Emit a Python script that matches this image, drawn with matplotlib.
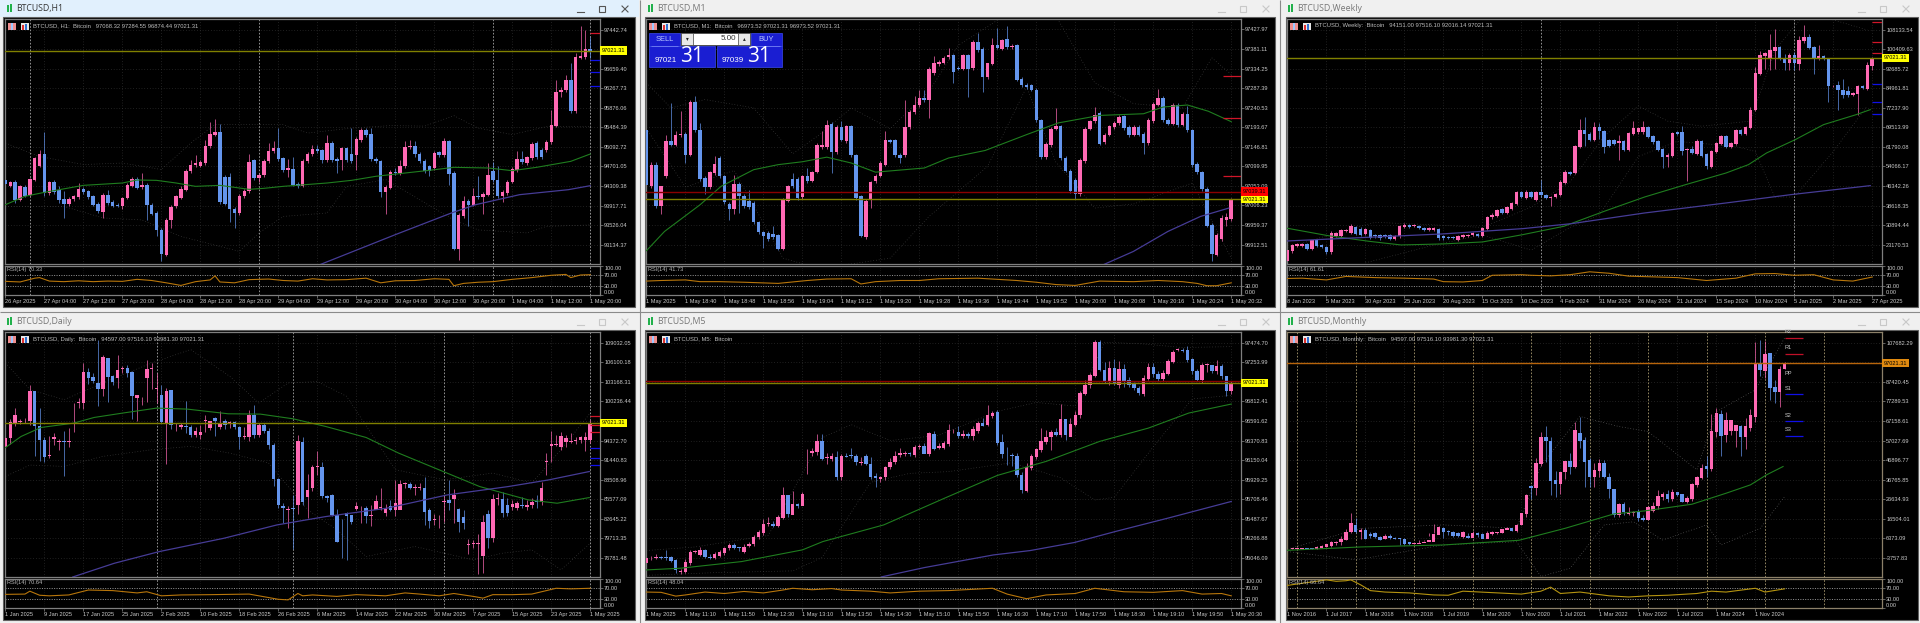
import numpy as np
import matplotlib
matplotlib.use('Agg')
import matplotlib.pyplot as plt
from matplotlib.patches import Rectangle

plt.rcParams['font.family'] = ['Liberation Sans', 'DejaVu Sans']

W, H = 1920, 623
UP = '#ff69b4'
DOWN = '#6495ed'
LAST = 97021.31

# ---------- H1 ----------
h1_open = [94437,94317,94383,94036,94290,94136,94437,94717,94951,94170,94397,94236,94050,93949,94050,94090,94256,94203,94103,93949,93795,94130,93989,93922,93902,94069,94317,94450,94283,94330,93936,93769,93435,92934,93635,93902,94069,94236,94604,94724,94717,94771,95105,95339,95385,94490,94490,93849,93769,94103,94203,94824,94470,94524,94811,95005,95071,94871,94637,94657,94350,94317,94804,94958,95058,95025,94824,95165,94851,94824,95065,94951,94938,95238,95425,95345,94858,94804,94183,94270,94590,94570,94704,95085,95118,94958,94811,94704,94671,94985,94938,95205,94570,93047,93702,94003,93936,94103,94083,94136,94604,94423,94103,94170,94397,94637,94858,94771,94871,95172,95038,95025,95198,95519,96187,96227,96441,95806,96882,96895,97057]
h1_close = [94350,94383,94036,94303,94116,94450,94864,94951,94170,94383,94183,94036,93949,94056,94103,94256,94190,94090,93936,93802,94130,93969,93902,93902,94069,94323,94450,94270,94330,93936,93755,93421,92954,93635,93889,94103,94256,94617,94724,94771,94784,95105,95359,95385,93989,93956,93849,93769,94103,94216,94791,94470,94537,94811,95018,95071,94858,94637,94670,94337,94303,94818,94958,95058,95005,94824,95165,94831,94818,95065,94838,94818,95252,95425,95332,94858,94804,94183,94290,94590,94570,94704,95091,95118,94944,94811,94604,94604,94971,94925,95205,94557,93047,93722,94003,93936,94103,94090,94150,94524,94423,94103,94183,94397,94657,94858,94784,94884,95152,94884,94891,95198,95532,96194,96240,96441,95806,96895,96908,97062,97021]
h1_high = [94470,94410,94437,94330,94320,94480,94900,95040,95385,94410,94430,94303,94203,94080,94130,94370,94290,94230,94130,93980,94170,94236,94020,93960,94090,94370,94490,94490,94570,94370,93970,93800,93470,93670,93920,94130,94300,94650,94840,94938,94830,95238,95586,95652,95559,94530,94570,93880,94140,94250,94958,94860,94570,94850,95172,95205,95472,94900,94850,94900,94380,94850,95000,95138,95130,95060,95338,95205,94890,95100,95100,95472,95290,95470,95472,95472,94890,94840,94330,94630,94670,94838,95205,95238,95205,95000,94850,94740,95010,95020,95272,95238,94610,93760,94103,94040,94270,94504,94190,94771,94784,94704,94220,94430,94700,95005,95005,94920,95190,95210,95080,95240,95840,96441,96300,96541,96775,96975,97510,97443,97289]
h1_low = [94303,94290,93969,94000,94090,94110,94410,94690,94103,94130,94150,93969,93669,93902,94010,94040,94150,94050,93900,93770,93669,93930,93880,93880,93850,94040,94290,94240,94250,93635,93720,93301,92800,92900,93470,93870,94040,94200,94570,94700,94690,94740,95080,95310,93950,93920,93582,93468,93730,94070,94170,94430,94400,94490,94780,94970,94820,94600,94500,94300,94270,94290,94770,94920,94980,94780,94790,94800,94570,94640,94800,94780,94637,95200,95300,94820,94770,94080,93755,94240,94540,94540,94670,95050,94900,94780,94570,94504,94640,94890,94900,94337,93030,92834,93670,93500,93900,94050,93750,94100,94390,94060,93982,94130,94360,94600,94750,94730,94840,94850,94860,94990,95160,95490,96100,96190,95770,95770,96850,96860,96874]
h1_ma_x = [0,4,8,16,24,27,31,35,39,44,50,53,57,66,71,76,82,87,92,99,104,109,116,120]
h1_ma = [93936,94103,94183,94323,94370,94430,94423,94370,94303,94323,94243,94263,94303,94370,94423,94504,94570,94624,94684,94671,94617,94684,94804,94951]
h1_slow_x = [64.5,80,91.5,96.5,105.5,115.5,120]
h1_slow = [92733,93335,93769,93936,94136,94236,94316]
h1_bb_x = [0,7,16,24,32,38,43,51,57,62,71,79,86,92,97,104,111,120]
h1_bb_up = [95170,94900,94740,94770,94640,95170,95540,95540,95540,95370,95470,95520,95510,95720,95470,95340,95500,95500]
h1_bb_low_x = [0,12,20,28,36,48,52,57,66,70,78,92,97,107,111,120]
h1_bb_low = [93900,93900,93670,93630,93300,93000,93370,93700,93770,94300,94440,93630,93430,93370,93500,93530]
h1_rsi_x = [0,3,6,7,9,12,15,18,21,24,27,30,33,36,39,42,43,44,47,50,54,57,60,63,66,70,74,77,80,84,88,91,92,94,97,100,104,108,112,115,116,118,120]
h1_rsi = [47,45,58,60,48,46,49,46,48,47,54,50,42,33,46,52,66,45,42,53,55,50,48,56,52,53,58,42,49,50,56,54,32,40,44,46,54,60,68,71,60,69,70]
h1_ytick = [97442.74,97051.07,96659.40,96267.73,95876.06,95484.39,95092.72,94701.05,94309.38,93917.71,93526.04,93134.37]
h1_ylim = [92747,97656]
h1_dates = ['26 Apr 2025','27 Apr 04:00','27 Apr 12:00','27 Apr 20:00','28 Apr 04:00','28 Apr 12:00','28 Apr 20:00','29 Apr 04:00','29 Apr 12:00','29 Apr 20:00','30 Apr 04:00','30 Apr 12:00','30 Apr 20:00','1 May 04:00','1 May 12:00','1 May 20:00']
h1_sep = [5,52,100,120]
h1_red = [97369]
h1_blue = [96835,96601,96307]

# ---------- M1 ----------
m1_open = [97188,97052,97104,97006,97076,97160,97152,97174,97178,97128,97254,97186,97072,97050,97084,97120,97076,97010,96998,97058,97030,97016,97012,96966,96942,96940,96937,96935,96903,97018,97070,97070,97026,97076,97066,97087,97146,97146,97202,97134,97194,97160,97196,97126,97028,96930,97020,97064,97078,97104,97162,97162,97128,97126,97194,97230,97246,97264,97258,97324,97344,97348,97362,97366,97336,97334,97366,97335,97398,97382,97314,97346,97390,97382,97406,97385,97390,97310,97296,97294,97284,97210,97122,97151,97190,97196,97120,97090,97068,97034,97112,97190,97208,97228,97158,97176,97194,97204,97220,97194,97176,97194,97178,97156,97209,97248,97264,97212,97202,97248,97200,97226,97186,97106,97086,97046,96960,96888,96926,96972,96974]
m1_close = [97056,97104,97006,97052,97160,97152,97174,97178,97128,97254,97186,97070,97050,97086,97106,97076,97014,96998,97058,97028,97006,97002,96966,96942,96932,96927,96930,96903,97020,97052,97052,97024,97076,97064,97086,97152,97152,97198,97134,97194,97164,97196,97126,97023,96934,97018,97062,97078,97108,97162,97159,97126,97120,97194,97230,97247,97264,97258,97334,97348,97350,97360,97366,97326,97334,97366,97334,97398,97378,97314,97348,97390,97384,97402,97386,97388,97308,97294,97290,97284,97210,97122,97154,97190,97196,97120,97090,97040,97034,97116,97190,97208,97224,97154,97176,97196,97204,97218,97192,97174,97194,97176,97156,97212,97250,97264,97210,97202,97248,97198,97226,97186,97102,97086,97046,96958,96890,96936,96976,96978,97021]
m1_high = [97192,97110,97110,97015,97176,97252,97184,97232,97182,97258,97268,97204,97076,97090,97124,97124,97080,97014,97080,97062,97034,97044,97016,96970,96946,96946,96956,96939,97024,97056,97084,97074,97080,97096,97090,97156,97184,97212,97206,97198,97208,97200,97200,97130,97032,97022,97066,97082,97112,97184,97166,97166,97132,97260,97234,97268,97284,97284,97338,97364,97354,97364,97384,97370,97340,97370,97370,97402,97420,97386,97318,97408,97432,97406,97436,97392,97394,97314,97300,97298,97288,97214,97158,97194,97240,97200,97124,97094,97072,97120,97194,97212,97242,97232,97180,97200,97208,97222,97224,97198,97198,97198,97182,97216,97254,97286,97268,97216,97252,97252,97230,97244,97190,97110,97090,97050,96964,96940,96984,96988,97024]
m1_low = [97052,97048,97000,96986,97072,97148,97148,97170,97108,97124,97182,97066,97034,97046,97080,97072,97010,96972,96986,96988,97000,96998,96962,96938,96904,96922,96926,96900,96899,97014,97048,97020,97022,97060,97062,97083,97142,97142,97084,97130,97160,97156,97122,97019,96930,96926,97000,97060,97074,97100,97155,97122,97108,97122,97190,97226,97242,97254,97215,97320,97340,97344,97358,97300,97330,97330,97266,97331,97374,97278,97310,97342,97380,97378,97382,97381,97304,97290,97286,97280,97206,97118,97118,97147,97186,97116,97086,97036,97022,97030,97108,97186,97204,97150,97154,97172,97190,97200,97188,97170,97172,97172,97130,97152,97205,97244,97206,97198,97198,97194,97196,97182,97098,97082,97042,96954,96872,96884,96922,96958,96970]
m1_ma_x = [0,3.7,11,15.3,22,27,32,37,42,47,57,62,69.5,78,84.5,93,102,106,111,115.3,120]
m1_ma = [96898,96944,97008,97052,97092,97104,97111,97122,97108,97086,97096,97120,97138,97176,97204,97222,97226,97242,97247,97232,97207]
m1_slow_x = [93.7,99.9,107,113.7,119.5]
m1_slow = [96864,96896,96944,96980,97000]
m1_bb_x = [0,5,12,22,30,36,42,50,58,64,72,78,84,92,100,110,116,120]
m1_bb_up = [97300,97240,97260,97240,97130,97180,97240,97190,97280,97390,97450,97470,97460,97300,97250,97240,97360,97320]
m1_bb_low_x = [0,8,18,28,34,42,50,58,70,78,84,92,100,112,116,120]
m1_bb_low = [97190,97050,97090,96880,96860,96866,96880,96980,97100,97290,97110,97000,97010,97060,96970,96880]
m1_rsi_x = [0,3,8,11,15,20,27,33,37,42,44,47,52,56,60,64,68,72,76,80,84,88,93,96,100,105,110,113,115,117,120]
m1_rsi = [48,50,52,46,46,44,40,50,55,56,38,46,50,50,56,57,58,54,50,44,36,33,48,47,46,50,46,40,32,32,42]
m1_ytick = [97427.97,97381.11,97334.25,97287.39,97240.53,97193.67,97146.81,97099.95,97053.09,97006.23,96959.37,96912.51]
m1_ylim = [96866,97453]
m1_dates = ['1 May 2025','1 May 18:40','1 May 18:48','1 May 18:56','1 May 19:04','1 May 19:12','1 May 19:20','1 May 19:28','1 May 19:36','1 May 19:44','1 May 19:52','1 May 20:00','1 May 20:08','1 May 20:16','1 May 20:24','1 May 20:32']
m1_sep = []
m1_red = [97317,97216,97076]
m1_blue = []

# ---------- Weekly ----------
w1_open = [16600,20550,22790,22790,23450,21470,24900,23180,22270,20150,26740,26740,28450,27800,30170,29510,27400,28850,27140,27140,27140,27010,25430,26480,30300,30960,30430,30430,29770,29120,28850,29510,26480,26210,26080,25170,26210,26740,27010,27530,26610,29510,33990,34380,37280,35700,37280,39390,43990,41620,43860,40970,43860,42940,41490,42020,42810,47550,51900,51370,61650,68360,67040,64670,69810,68230,64670,64670,63350,64150,60460,66910,67580,67580,69550,66250,64150,60990,57830,58350,67570,67700,60460,61120,59130,64010,59130,53870,59930,63090,65990,61780,63090,68360,67040,69410,76260,90760,97860,96670,99700,101160,96800,94960,98260,94700,103530,105250,101160,96540,97600,96540,85760,86150,84440,84050,82330,82850,85760,84830,93930]
w1_close = [20950,23180,23450,23580,21470,24900,22790,22270,20150,27800,27800,28850,28850,30690,27400,27140,29510,25950,26480,25690,26210,25560,26740,30430,30820,30170,30820,29640,29120,29640,29640,25690,25690,25690,25690,26740,27010,27140,27800,26740,29770,34120,35040,36760,35700,37940,39520,43990,42020,44130,42020,43860,42680,41620,42020,43070,48080,51900,51240,62040,68620,67040,64670,69550,68100,61780,62040,63090,64150,60460,67190,69150,69280,69550,65730,63620,60720,57830,58750,67300,67040,60060,61120,59400,64280,58350,54150,60060,63360,65990,61780,63360,68360,67040,69550,76520,91010,98260,98910,99970,101160,96540,94960,98260,94960,103930,105250,100900,96540,97600,96540,85760,86020,84180,82470,82200,83120,85760,85100,94040,97020]
w1_high = [21200,23500,23800,23900,23800,25200,25200,23500,22600,28500,28200,29200,29200,31300,30600,30000,29900,29200,27500,27500,27500,27400,27100,31000,31800,31300,31200,30800,30100,30000,30000,29900,26800,26600,26400,27100,27400,27500,28200,27900,30100,34500,35500,37200,37700,38400,40100,44500,44400,44600,44300,44300,48700,43300,42400,43500,48600,52500,52300,62500,73000,73600,67500,71500,71300,68600,65100,65000,66600,64500,67600,72000,69700,72000,70000,66700,64600,61400,59200,67800,68000,70000,61500,62000,64800,64400,59500,60500,63800,66400,66400,63800,68900,68700,70000,77500,93500,99800,99500,106500,108400,101600,98500,98800,99500,105700,110000,106500,101800,102200,98000,97000,86400,88000,88500,86000,83600,86300,86200,95500,97516]
w1_low = [16000,20000,22400,22400,21000,21000,22400,21800,19300,19600,26300,26300,28000,27300,27000,26700,27000,25500,25900,25200,25800,25100,25000,26000,29800,29700,30000,29200,28700,28700,28400,25200,25200,25300,25300,24800,25800,26300,26600,26300,26200,29100,33500,34000,35300,35300,36800,38900,41600,41200,41600,40500,42200,41200,38500,41600,42400,47000,50800,50900,61200,62000,64200,64200,64800,59500,61600,62700,56800,60000,60000,66400,67100,67100,65300,63100,60300,53600,54000,57900,66600,58500,48500,58900,58600,57900,53000,53400,59400,62600,61300,61300,62600,66600,66600,69000,75800,90300,92500,92000,92500,96100,92000,92000,92000,92000,103000,100400,90600,96000,96100,79500,85300,76500,81000,81700,81800,74500,84600,84300,92000]
w1_ma_x = [0,8.3,16.7,23.3,31.7,40,48.3,56.7,65,73.3,81.7,90,94.6,98.3,104.2,110,116.7,119.6]
w1_ma = [29640,26740,24510,23060,23450,24240,27140,30430,36360,42020,46890,51500,54800,59400,64670,70600,74550,76530]
w1_slow_x = [0,15,31.7,48.3,58.3,73.3,90,103.3,119.6]
w1_slow = [24640,25950,27400,29510,31480,35700,39650,42940,46500]
w1_bb_x = [0,12,18,30,40,50,58,65,72,78,85,95,100,106,112,119]
w1_bb_up = [22000,29000,32000,31000,30000,38000,48000,66000,78000,72000,70000,72000,100000,114000,112000,108000]
w1_bb_low_x = [16,30,40,50,58,64,72,80,92,96,100,104,112,119]
w1_bb_low = [16000,23000,27000,21000,30000,35000,58000,64000,62000,60000,42000,42000,60000,78000]
w1_rsi_x = [0,3,8,12,18,24,30,32,36,40,42,48,50,54,58,62,66,70,76,80,86,92,96,100,104,108,112,116,120]
w1_rsi = [57,58,52,64,60,58,55,46,45,50,68,70,68,66,70,80,75,65,62,60,50,58,73,74,68,70,52,48,62]
w1_ytick = [108133.54,100409.63,92685.72,84961.81,77237.90,69513.99,61790.08,54066.17,46342.26,38618.35,30894.44,23170.53]
w1_ylim = [15532,112348]
w1_dates = ['8 Jan 2023','5 Mar 2023','30 Apr 2023','25 Jun 2023','20 Aug 2023','15 Oct 2023','10 Dec 2023','4 Feb 2024','31 Mar 2024','26 May 2024','21 Jul 2024','15 Sep 2024','10 Nov 2024','5 Jan 2025','2 Mar 2025','27 Apr 2025']
w1_sep = [52,104]
w1_red = [111030,103392,98783]
w1_blue = [86666,79423,74812]

# ---------- Daily ----------
d1_open = [93332,94782,96982,97082,97232,97232,101732,96482,94482,92132,94582,94132,94232,94132,96332,99982,100032,104632,103932,102932,102132,106732,104032,103782,105132,105232,104632,100732,100232,103732,105082,102132,101132,96932,101982,96332,96332,96582,96332,95132,95132,97332,96232,97732,96432,97232,97032,97082,96382,94932,94832,98132,95132,96732,95732,93732,88632,84582,84032,84332,84732,94132,85982,87332,90432,90432,86132,86232,83232,79232,83532,83232,84132,84232,84232,83132,83982,84232,83482,84582,84032,84032,87882,87882,87232,87332,87332,83982,82482,82432,85232,85482,85632,84132,82982,78732,78882,78832,77032,83332,79732,85632,85632,84732,84432,84232,84732,84432,84732,85332,85132,91182,93482,93732,93382,94132,94132,94332,94382,94482,94497]
d1_close = [94782,97082,98182,97232,97232,101732,96482,94482,91982,92132,94932,94132,94132,94132,96332,100082,104632,103732,103332,102132,106932,103882,103132,104982,105182,104532,101032,101232,100232,105132,105082,102132,97132,101832,96732,96332,96732,96432,95132,95832,95582,97332,97232,97332,96832,96632,97032,96332,94932,94932,98132,95232,96732,95732,93732,88582,84732,84232,84132,84132,94232,85182,86982,90382,90432,86132,85732,83232,79232,79132,83132,82232,84532,84232,83132,83132,85382,84482,84232,84032,84982,87882,87882,87332,87232,87332,83632,82332,82532,82432,85232,84982,86232,82232,81982,78732,78982,79082,82232,79732,85632,85632,83482,83482,84932,84982,84632,84732,85232,85132,87332,91232,93782,93732,94982,94732,94332,94482,94882,94882,97021]
d1_high = [95232,97632,99182,97632,97732,102632,101732,99182,94882,94982,95432,94632,95732,96232,99982,100732,105982,105232,104432,109432,107132,104732,104132,107232,105532,105732,104832,101032,100932,106432,106032,104432,102632,102232,101982,97032,97032,100332,96632,96332,96732,98132,97332,97932,98832,97532,97332,97232,96532,96432,98932,99632,97032,96932,96232,93932,88832,84982,84532,86232,95232,94932,89432,90732,92732,91232,86232,86432,84132,82632,83632,83232,85232,84632,84632,84732,86232,87232,84932,85532,88532,88532,88232,88232,87932,88032,88932,84332,83332,83232,86132,88432,87132,84332,83932,79632,79432,80332,83232,83932,86332,86532,86732,85732,85432,85332,85932,85532,85832,86232,88232,92432,95832,95132,95632,95232,95532,94932,95032,95632,97516]
d1_low = [93032,93832,96482,96832,96932,96632,92032,91332,91132,91732,93632,92932,89032,93332,95632,99232,99032,102832,103032,99532,101032,100132,102632,102232,104532,103832,97632,97232,99732,100132,102032,100032,96932,90932,96132,95732,96032,95532,94832,94832,94632,95632,95932,95032,96132,96132,96232,96032,93132,94532,94232,94732,94832,95532,93132,87582,84232,81982,81232,78132,83432,84732,82732,86832,89182,85832,85232,83032,79232,76832,76432,81882,84032,82032,82032,81632,84932,84032,83082,83832,83032,87032,87232,87132,86232,86932,81732,81232,81732,81232,82232,84032,82032,80732,81132,77432,78332,74432,74532,78332,79232,84732,82932,83132,84032,83932,84332,84032,84232,84332,84732,89232,91132,93532,92932,93332,93932,93832,94032,92832,93981]
d1_ma_x = [0,3.2,7.3,14,18.2,24,31,37.3,45.7,52.3,59,65.7,74,80.7,89,97.3,107.3,113.2,119.8]
d1_ma = [93332,94982,96332,96982,97832,98482,99232,99082,98382,98332,97632,96482,94832,92482,89982,87482,85482,84982,85832]
d1_slow_x = [13.8,22.3,31.5,44.8,55.7,65.7,78.2,90.7,103.2,111.5,119.8]
d1_slow = [73932,75982,77732,79732,81732,82982,84232,86232,87482,88482,89732]
d1_bb_x = [0,5,12,20,30,38,46,52,58,64,70,80,90,100,108,114,120]
d1_bb_up = [106000,102000,100500,103000,106000,108000,104000,100000,103000,103200,101000,90000,88500,89500,88000,93000,98500]
d1_bb_low_x = [0,5,12,20,30,38,46,54,62,68,74,84,96,102,108,114,120]
d1_bb_low = [89000,90700,90500,92000,93000,93500,92500,91000,84000,81000,77000,78500,76500,77500,78000,75000,79000]
d1_rsi_x = [0,4,5,7,9,13,17,22,27,29,32,36,42,50,56,58,60,61,63,68,72,78,82,85,89,92,96,98,100,104,108,111,113,116,120]
d1_rsi = [47,48,58,44,42,45,62,60,52,56,42,45,46,48,30,28,50,42,45,40,46,42,52,48,42,50,40,34,46,46,48,60,68,66,68]
d1_ytick = [109032.05,106100.18,103168.31,100236.44,97304.57,94372.70,91440.83,88508.96,85577.09,82645.22,79713.35,76781.48]
d1_ylim = [73932,110632]
d1_dates = ['1 Jan 2025','9 Jan 2025','17 Jan 2025','25 Jan 2025','2 Feb 2025','10 Feb 2025','18 Feb 2025','26 Feb 2025','6 Mar 2025','14 Mar 2025','22 Mar 2025','30 Mar 2025','7 Apr 2025','15 Apr 2025','23 Apr 2025','1 May 2025']
d1_sep = [31,59,90,120]
d1_red = [98032,96632,95632]
d1_blue = [93232,91832,90732]

# ---------- M5 ----------
m5_open = [94986,95040,95046,95062,95062,95054,95018,94892,94892,94986,95115,95080,95134,95062,95050,95071,95101,95154,95193,95158,95118,95182,95202,95277,95325,95434,95434,95411,95502,95751,95530,95653,95634,96237,96231,96246,96360,96171,96162,96188,95958,96198,96202,96195,96115,96195,96108,95966,95938,95954,96068,96130,96209,96218,96228,96210,96293,96304,96221,96440,96284,96289,96330,96485,96469,96417,96440,96417,96480,96568,96550,96642,96687,96349,96209,96211,96199,95984,95805,96065,96184,96269,96355,96405,96466,96429,96611,96406,96548,96656,96895,96993,97104,97482,97170,97038,97189,97000,97180,97055,97008,96963,96895,97068,97200,97125,97068,97125,97256,97395,97395,97388,97295,97151,97057,97228,97226,97151,97206,97102,96925]
m5_close = [95040,95046,95062,95050,95043,95010,94911,94892,95003,95115,95118,95134,95062,95050,95091,95110,95157,95193,95158,95157,95175,95202,95287,95334,95424,95434,95411,95506,95751,95540,95653,95634,95764,96240,96250,96360,96164,96184,96195,95958,96198,96189,96191,96123,96115,96104,95958,95946,95957,96070,96134,96198,96225,96233,96219,96293,96314,96221,96451,96276,96314,96342,96485,96492,96417,96440,96417,96504,96568,96540,96656,96681,96342,96216,96202,96194,95984,95807,96067,96191,96273,96361,96416,96466,96436,96611,96436,96559,96656,96905,96999,97107,97478,97170,97033,97189,97008,97180,97030,96995,96963,96902,97076,97200,97120,97068,97132,97263,97370,97395,97384,97283,97151,97056,97228,97228,97151,97215,97094,96925,97016]
m5_high = [95060,95070,95085,95072,95130,95070,95030,94920,95030,95135,95140,95165,95145,95090,95110,95135,95175,95210,95215,95175,95200,95225,95310,95360,95480,95510,95460,95525,95850,95700,95800,95670,95790,96280,96290,96440,96440,96230,96230,96250,96220,96235,96290,96220,96190,96220,96190,96005,95965,96085,96170,96250,96290,96250,96240,96315,96330,96340,96470,96480,96340,96370,96560,96500,96530,96490,96465,96530,96590,96625,96770,96700,96710,96440,96300,96230,96235,96020,96115,96215,96290,96510,96490,96495,96510,96780,96560,96620,96700,96925,97050,97130,97510,97500,97260,97270,97290,97270,97230,97090,97030,96990,97110,97250,97240,97160,97170,97290,97390,97410,97410,97440,97300,97180,97250,97250,97220,97280,97230,97000,97040]
m5_low = [94970,95020,95030,95030,95020,95000,94880,94860,94880,94970,95100,95065,95040,95030,95030,95055,95080,95135,95150,95120,95100,95165,95180,95260,95310,95405,95395,95390,95490,95510,95630,95615,95745,95990,96200,96210,96150,96110,96140,95925,95930,96180,96175,96100,96095,96090,95935,95850,95900,95930,96050,96105,96190,96200,96200,96190,96275,96280,96200,96260,96270,96270,96310,96460,96400,96395,96400,96380,96460,96530,96530,96620,96320,96170,96090,96080,95960,95780,95790,96040,96160,96240,96335,96260,96420,96405,96380,96520,96540,96620,96880,96960,97090,97160,97020,97000,97000,96960,96980,96980,96940,96880,96870,97050,97090,97040,97040,97110,97240,97380,97370,97260,97120,97040,97020,97140,97130,97120,97060,96870,96900]
m5_ma_x = [0,7,19.5,32,36.2,48.7,61.2,72,82,93,103,111.3,120]
m5_ma = [94911,94930,95005,95137,95231,95419,95721,95977,96135,96361,96511,96681,96782]
m5_slow_x = [48.2,57,71.2,78.7,87.8,96.2,107,120]
m5_slow = [94832,94937,95080,95129,95220,95344,95495,95683]
m5_bb_x = [0,10,25,36,42,50,60,72,80,88,94,102,110,120]
m5_bb_up = [95130,95170,95300,96400,96550,96370,96430,96700,96800,96760,97480,97460,97420,97430]
m5_bb_low_x = [0,14,30,36,46,54,62,75,85,92,96,104,112,120]
m5_bb_low = [94850,94880,94900,95050,95900,96000,96020,96120,95950,95700,95730,96300,96840,96880]
m5_rsi_x = [0,3,6,8,12,16,20,24,28,30,34,38,40,46,50,56,62,71,74,78,82,88,92,98,104,110,114,118,120]
m5_rsi = [55,54,41,45,55,50,57,52,62,68,63,67,62,58,52,58,60,68,48,32,45,50,68,56,54,60,48,50,42]
m5_ytick = [97474.70,97253.99,97033.20,96812.41,96591.62,96370.83,96150.04,95929.25,95708.46,95487.67,95266.88,95046.09]
m5_ylim = [94831,97595]
m5_dates = ['1 May 2025','1 May 11:10','1 May 11:50','1 May 12:30','1 May 13:10','1 May 13:50','1 May 14:30','1 May 15:10','1 May 15:50','1 May 16:30','1 May 17:10','1 May 17:50','1 May 18:30','1 May 19:10','1 May 19:50','1 May 20:30']
m5_sep = []
m5_red = []
m5_blue = []

# ---------- Monthly ----------
mn_open = [740,960,1000,1080,1190,1100,950,1640,2000,2680,3890,4400,5790,9590,13390,9590,10620,8550,9420,7340,6130,7690,6830,6480,6130,4400,3540,3540,3890,4400,4750,8210,11660,10280,9930,9420,7170,7860,6830,9070,8720,6130,8720,9070,9240,10800,11660,10450,13390,18910,33770,32390,44820,58980,56910,36530,34460,41020,46720,43270,60880,57080,47070,38260,41200,45680,38430,31870,18570,24100,19090,19610,19950,17190,16150,20810,23060,27720,29450,27030,30660,29450,25480,26860,34110,37570,44130,42400,61230,70900,59670,61740,61740,64510,58810,63470,69340,97150,93180,102330,84540,82120,94210]
mn_close = [960,1000,1190,1190,1100,950,2160,2510,3370,4750,4750,6130,9930,14420,9590,10620,6130,7510,7170,5620,7690,6480,6130,6130,3720,3370,4230,4230,4750,5440,8720,12180,9590,9590,7860,7690,9590,6830,9420,8380,6130,9240,9930,9590,11320,11660,10450,13390,19430,28930,32390,45340,58810,56560,36360,34460,41020,46720,43270,62260,56910,46200,38260,41710,45680,38090,31870,18570,24100,20300,20300,20300,16840,16150,22890,23400,28410,29450,26860,30660,29100,25480,27200,34460,38090,42750,42400,61740,71240,59500,67790,67790,64850,58810,64330,70380,97150,93350,101980,84200,82120,94210,97020]
mn_high = [1160,1290,1350,1450,1300,1300,2700,2990,3450,5000,4980,7900,11400,19800,17200,11800,11700,9950,9800,7800,8500,8500,7400,6800,6500,4100,4200,5500,5600,9100,13800,13000,12300,10900,10500,9600,10500,9300,10000,9600,9100,10000,10400,9600,11500,12500,12000,13900,19800,29300,34000,48000,61700,64800,58900,41300,35000,42500,50500,66900,69000,59000,48200,45500,47500,47000,40000,31900,24500,25200,22800,20500,21400,18300,23300,25200,31500,30500,31400,31800,30000,28000,28500,35200,38500,44700,49000,71000,73800,72800,71900,65800,65000,65000,68600,73500,108000,109000,108300,96000,88500,95700,97516]
mn_low = [700,800,900,1000,850,870,900,1200,1800,2000,3000,3200,5500,9000,9000,6000,6000,6700,6700,5800,5900,6100,6000,3200,3100,3200,3300,3900,5000,7500,9000,9100,6400,8400,7000,7400,6700,6500,8300,7000,6500,6600,8300,8500,9400,11300,10400,9700,13300,17600,26800,28800,43900,46000,28800,28000,29300,37300,39500,42800,53200,32900,33000,33000,38000,37700,27500,17600,17700,18500,18600,18200,15500,15500,15800,20000,21400,26500,25000,26000,28600,25000,24800,26000,33000,37000,38000,41500,59000,49000,56500,60000,53500,49000,52600,62000,66800,90500,89300,78200,76500,74400,93981]
mn_ma_x = [0,15,32,47.5,57,67,73.3,83,90,95,98.3,101.7]
mn_ma = [262,1990,3026,5444,11660,19090,20640,24100,29790,34110,39290,43610]
mn_bb_x = [0,15,32,47,52,60,68,74,84,88,96,102]
mn_bb_up = [900,11600,13400,11700,44000,69500,64300,61700,41900,72000,83300,110100]
mn_bb_low_x = [0,14,32,47,52,58,65,71,77,86,89,97,102]
mn_bb_low = [-400,-4700,3000,4700,-13300,-9000,13400,15000,5600,13400,3000,11600,28000]
mn_rsi_x = [0,8,10,12,13,15,17,20,25,30,33,36,42,48,52,54,56,60,66,70,74,78,84,87,90,96,98,102]
mn_rsi = [78,97,92,94,97,80,60,55,52,45,44,58,53,48,58,72,50,55,42,38,42,44,50,58,55,68,55,66]
mn_ytick = [107682.29,97551.37,87420.45,77289.53,67158.61,57027.69,46896.77,36765.85,26634.93,16504.01,6373.09,-3757.83]
mn_ylim = [-13554,113209]
mn_dates = ['1 Nov 2016','1 Jul 2017','1 Mar 2018','1 Nov 2018','1 Jul 2019','1 Mar 2020','1 Nov 2020','1 Jul 2021','1 Mar 2022','1 Nov 2022','1 Jul 2023','1 Mar 2024','1 Nov 2024']
mn_sep = [2,14,26,38,50,62,74,86,98,110]
mn_pivot_names = ['R2','R1','S1','S2','S3']
mn_pivots = [110100,101983,80914,66925,59326]

fig = plt.figure(figsize=(W / 100, H / 100), dpi=100, facecolor='#f0f0f0')
bg = fig.add_axes([0, 0, 1, 1])
bg.set_xlim(0, W)
bg.set_ylim(H, 0)
bg.axis('off')
over = fig.add_axes([0, 0, 1, 1], zorder=30)
over.set_xlim(0, W)
over.set_ylim(H, 0)
over.axis('off')


def px_axes(left, top, right, bottom):
	return fig.add_axes([left / W, 1 - bottom / H, (right - left) / W, (bottom - top) / H])


def window(x0, y0, width, title, active=False):
	# title bar, green candle icon, caption buttons
	bar = '#e1f0fd' if active else '#f0f0f0'
	bg.add_patch(Rectangle((x0, y0), width, 17, color=bar, lw=0))
	bg.add_patch(Rectangle((x0 + 7, y0 + 5), 2, 7, color='#22b14c', lw=0))
	bg.add_patch(Rectangle((x0 + 10, y0 + 4), 2, 8, color='#22b14c', lw=0))
	bg.text(x0 + 16, y0 + 8.5, title, fontsize=6.3, color='#333333' if active else '#777777', va='center', family=['Open Sans', 'DejaVu Sans'])
	c = '#555555' if active else '#c8c8c8'
	bg.plot([x0 + 577, x0 + 584], [y0 + 11.5, y0 + 11.5], color=c, lw=0.8)
	bg.add_patch(Rectangle((x0 + 599, y0 + 6), 6, 6, fill=False, ec=c, lw=0.8))
	bg.plot([x0 + 622, x0 + 628], [y0 + 6, y0 + 12], color=c, lw=0.8)
	bg.plot([x0 + 622, x0 + 628], [y0 + 12, y0 + 6], color=c, lw=0.8)


def legend_icons(x, y):
	over.add_patch(Rectangle((x, y - 3), 8, 7, color='#f08f8f', lw=0))
	over.add_patch(Rectangle((x + 3, y - 3), 2, 7, color='#9fc8ff', lw=0))
	over.add_patch(Rectangle((x + 13, y - 3), 8, 7, color='#e8e8e8', lw=0))
	over.add_patch(Rectangle((x + 14, y - 1), 2, 5, color='#e03030', lw=0))
	over.add_patch(Rectangle((x + 17, y - 2), 2, 6, color='#3070d0', lw=0))


def panel(box, legend, rsi_label, opens, highs, lows, closes, ma_x, ma, slow_x, slow,
		bb_x, bb_up, bb_low_x, bb_low, rsi_x, rsi, yticks, ylim, dates, seps, reds, blues,
		last_color='#808000', label_color='#ffff00', frame='#7f7f7f', sep_color='#a8a8a8', bb_color='#474747', rsi_color='#b8760b'):
	black_l, black_t, black_r, black_b, left, top, right, main_b, rsi_t, rsi_b = box
	bg.add_patch(Rectangle((black_l, black_t), black_r - black_l, black_b - black_t, fc='black', ec='#606060', lw=0.8))

	ax = px_axes(left, top, right, main_b)
	ax2 = px_axes(left, rsi_t, right, rsi_b)
	o = np.array(opens, float)
	c = np.array(closes, float)
	x = np.arange(len(o))
	for a in (ax, ax2):
		a.set_facecolor('black')
		a.set_xlim(-0.1, 122)
		for s in a.spines.values():
			s.set_color(frame)
			s.set_linewidth(0.9)
		a.yaxis.tick_right()
		a.tick_params(axis='both', colors='#8a8a8a', length=2, width=0.5, labelsize=4.1, labelcolor='#cccccc', pad=1)
	tick_x = np.arange(len(dates)) * 8
	ax.set_ylim(*ylim)
	ax.set_yticks(yticks)
	ax.set_yticklabels(['%.2f' % t for t in yticks])
	ax.set_xticks([])
	ax.grid(False)
	ax.hlines(yticks, -0.1, 122, color='#3d3d3d', lw=0.5, linestyles=(0, (1, 3)), zorder=0)
	ax.vlines(tick_x, *ylim, color='#3d3d3d', lw=0.5, linestyles=(0, (1, 3)), zorder=0)
	if seps:
		ax.vlines(seps, *ylim, color=sep_color, lw=0.6, linestyles=(0, (2, 2)), zorder=0.5)
		ax2.vlines(seps, 0, 100, color=sep_color, lw=0.6, linestyles=(0, (2, 2)), zorder=0.5)

	ax.plot(bb_x, bb_up, color=bb_color, lw=0.5, ls=(0, (1, 3)), zorder=1)
	ax.plot(bb_low_x, bb_low, color=bb_color, lw=0.5, ls=(0, (1, 3)), zorder=1)

	colors = np.where(c >= o, UP, DOWN)
	ax.vlines(x, lows, highs, colors=[matplotlib.colors.to_rgba(k, 0.7) for k in colors], lw=0.7, zorder=2)
	ax.bar(x, np.maximum(np.abs(c - o), (ylim[1] - ylim[0]) * 0.003), bottom=np.minimum(o, c), width=0.72, color=colors, lw=0, zorder=3)

	ax.plot(ma_x, ma, color='#1f7d1f', lw=0.8, zorder=4)
	if slow_x:
		ax.plot(slow_x, slow, color='#463c96', lw=0.9, zorder=4)

	ax.axhline(LAST, color=last_color, lw=1.0, zorder=5)
	ax.text(1.003, LAST, '%.2f' % LAST, transform=ax.get_yaxis_transform(), fontsize=4.1, color='black', va='center',
		bbox=dict(boxstyle='square,pad=0.3', fc=label_color, ec='none'), zorder=6, clip_on=False)
	for r in reds:
		ax.hlines(r, 118.4 if legend.startswith('BTCUSD, M1') else 120, 122, color='#d01528', lw=0.9, zorder=5)
	for b in blues:
		ax.hlines(b, 120, 122, color='#1010e8', lw=0.9, zorder=5)

	over.text(left + 28, top + 7, legend, fontsize=4.2, color='#bdbdbd', va='center')
	legend_icons(left + 3, top + 7)

	ax2.set_ylim(0, 100)
	ax2.set_yticks([100, 70, 30, 0])
	labels = ax2.set_yticklabels(['100.00', '70.00', '30.00', '0.00'])
	labels[0].set_va('top')
	labels[3].set_va('bottom')
	ax2.set_xticks(tick_x)
	ax2.set_xticklabels(dates, ha='left')
	ax2.hlines([70, 30], -0.1, 122, color='#c8c8c8', lw=0.5, linestyles=(0, (1.5, 2)), zorder=1)
	ax2.vlines(tick_x, 0, 100, color='#333333', lw=0.4, linestyles=(0, (1, 3)), zorder=0)
	ax2.plot(rsi_x, rsi, color=rsi_color, lw=0.8, zorder=3)
	ax2.text(0.003, 0.96, rsi_label, transform=ax2.transAxes, fontsize=4.1, color='#b8b8b8', va='top', zorder=4)
	return ax


row1 = (17, 307, 19, 264, 266, 295)
row2 = (330, 620, 332, 577, 579, 608)


def box_for(col, row):
	black_l = [3, 645, 1286][col]
	black_r = [635, 1275, 1918][col]
	left = [5, 646, 1287][col]
	right = [600, 1241, 1882][col]
	bt, bb, t, m, r1, r2 = row
	return (black_l, bt, black_r, bb, left, t, right, m, r1, r2)


window(0, 0, 639, 'BTCUSD,H1', active=True)
window(641, 0, 639, 'BTCUSD,M1')
window(1281, 0, 639, 'BTCUSD,Weekly')
window(0, 313, 639, 'BTCUSD,Daily')
window(641, 313, 639, 'BTCUSD,M5')
window(1281, 313, 639, 'BTCUSD,Monthly')
bg.vlines([640, 1280], 0, H, color='#8a8a8a', lw=0.8)
bg.hlines(312, 0, W, color='#8a8a8a', lw=0.8)

panel(box_for(0, row1), 'BTCUSD, H1:  Bitcoin   97068.32 97284.55 96874.44 97021.31', 'RSI(14) 70.33',
	h1_open, h1_high, h1_low, h1_close, h1_ma_x, h1_ma, h1_slow_x, h1_slow, h1_bb_x, h1_bb_up, h1_bb_low_x, h1_bb_low,
	h1_rsi_x, h1_rsi, h1_ytick, h1_ylim, h1_dates, h1_sep, h1_red, h1_blue)
ax_m1 = panel(box_for(1, row1), 'BTCUSD, M1:  Bitcoin   96973.52 97021.31 96973.52 97021.31', 'RSI(14) 41.73',
	m1_open, m1_high, m1_low, m1_close, m1_ma_x, m1_ma, m1_slow_x, m1_slow, m1_bb_x, m1_bb_up, m1_bb_low_x, m1_bb_low,
	m1_rsi_x, m1_rsi, m1_ytick, m1_ylim, m1_dates, m1_sep, m1_red, m1_blue)
panel(box_for(2, row1), 'BTCUSD, Weekly:  Bitcoin   94151.00 97516.10 92016.14 97021.31', 'RSI(14) 61.61',
	w1_open, w1_high, w1_low, w1_close, w1_ma_x, w1_ma, w1_slow_x, w1_slow, w1_bb_x, w1_bb_up, w1_bb_low_x, w1_bb_low,
	w1_rsi_x, w1_rsi, w1_ytick, w1_ylim, w1_dates, w1_sep, w1_red, w1_blue)
panel(box_for(0, row2), 'BTCUSD, Daily:  Bitcoin   94597.00 97516.10 93981.30 97021.31', 'RSI(14) 70.64',
	d1_open, d1_high, d1_low, d1_close, d1_ma_x, d1_ma, d1_slow_x, d1_slow, d1_bb_x, d1_bb_up, d1_bb_low_x, d1_bb_low,
	d1_rsi_x, d1_rsi, d1_ytick, d1_ylim, d1_dates, d1_sep, d1_red, d1_blue)
ax_m5 = panel(box_for(1, row2), 'BTCUSD, M5:  Bitcoin', 'RSI(14) 48.04',
	m5_open, m5_high, m5_low, m5_close, m5_ma_x, m5_ma, m5_slow_x, m5_slow, m5_bb_x, m5_bb_up, m5_bb_low_x, m5_bb_low,
	m5_rsi_x, m5_rsi, m5_ytick, m5_ylim, m5_dates, m5_sep, m5_red, m5_blue)
ax_m5.axhline(97039.31, color='#8b0000', lw=1.0, zorder=4.5)
ax_mn = panel(box_for(2, row2), 'BTCUSD, Monthly:  Bitcoin   94597.00 97516.10 93981.30 97021.31', 'RSI(14) 66.64',
	mn_open, mn_high, mn_low, mn_close, mn_ma_x, mn_ma, [], [], mn_bb_x, mn_bb_up, mn_bb_low_x, mn_bb_low,
	mn_rsi_x, mn_rsi, mn_ytick, mn_ylim, mn_dates, mn_sep, [], [],
	last_color='#b8650b', label_color='#e08a10', frame='#8c8069', sep_color='#a89a70', bb_color='#6e6e6e', rsi_color='#b59410')
for name, p in zip(mn_pivot_names, mn_pivots):
	ax_mn.hlines(p, 102, 105.8, color='#c01028' if name[0] == 'R' else '#1010e8', lw=0.9, zorder=5)
	ax_mn.text(102, p + 2000, name, fontsize=4.1, color='#c8c8c8', va='bottom', zorder=6)
ax_mn.text(102, 91500, 'PP', fontsize=4.1, color='#c8c8c8', va='center', zorder=6)

# ask line and one click panel on M1
ax_m1.axhline(97039.31, color='#8b0000', lw=1.0, zorder=5)
ax_m1.text(1.003, 97039.31, '97039.31', transform=ax_m1.get_yaxis_transform(), fontsize=4.1, color='black', va='center',
	bbox=dict(boxstyle='square,pad=0.3', fc='#ff0000', ec='none'), zorder=6, clip_on=False)

for lx, ly, lw_, lh in [(649, 33, 31, 13), (751, 33, 31, 13), (649, 46, 66, 21), (717, 46, 65, 21)]:
	over.add_patch(Rectangle((lx, ly), lw_, lh, fc='#1a1ed2', ec='#3a4af0', lw=0.5))
over.hlines(45.5, 651, 678, color='#7f8cf5', lw=0.5)
over.hlines(45.5, 753, 780, color='#7f8cf5', lw=0.5)
over.add_patch(Rectangle((681, 33), 69, 12, fc='white', ec='#404040', lw=0.5))
over.add_patch(Rectangle((681, 33), 12, 12, fc='#e8e8e8', ec='#404040', lw=0.5))
over.add_patch(Rectangle((738, 33), 12, 12, fc='#e8e8e8', ec='#404040', lw=0.5))
over.text(687, 39, '\u25be', fontsize=4, color='#222222', ha='center', va='center', family=['DejaVu Sans'])
over.text(744, 39, '\u25b4', fontsize=4, color='#222222', ha='center', va='center', family=['DejaVu Sans'])
over.text(664.5, 39.5, 'SELL', fontsize=5.4, color='#b8c8ff', ha='center', va='center')
over.text(766.5, 39.5, 'BUY', fontsize=5.4, color='#b8c8ff', ha='center', va='center')
over.text(736, 39, '5.00', fontsize=5.8, color='#333333', ha='right', va='center')
over.text(666, 60.5, '97021', fontsize=5.8, color='white', ha='center', va='center')
over.text(692, 56.5, '31', fontsize=15, color='white', ha='center', va='center', family=['Open Sans', 'DejaVu Sans'])
over.text(733, 60.5, '97039', fontsize=5.8, color='white', ha='center', va='center')
over.text(759, 56.5, '31', fontsize=15, color='white', ha='center', va='center', family=['Open Sans', 'DejaVu Sans'])

fig.savefig('out.png', dpi=100, facecolor=fig.get_facecolor())
